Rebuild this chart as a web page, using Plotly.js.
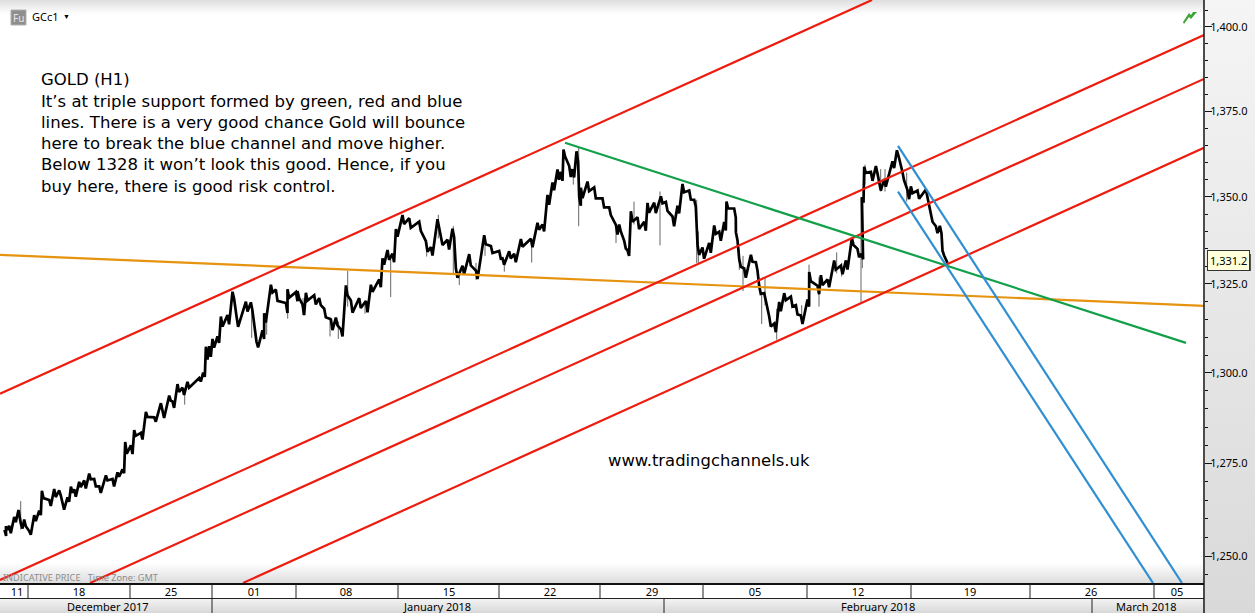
<!DOCTYPE html>
<html><head><meta charset="utf-8">
<script src="https://cdn.plot.ly/plotly-3.0.1.min.js"></script>
<style>
html,body{margin:0;padding:0;background:#fff;overflow:hidden}
#chart{width:1255px;height:613px;
background:
 linear-gradient(#f5f5f5,#d9d9d9) 1205px 0/50px 613px no-repeat,
 linear-gradient(#dedede,#ffffff) 0 0/1204px 14px no-repeat,
 linear-gradient(#ffffff,#dddddd) 0 563px/1204px 20px no-repeat,
 linear-gradient(#f3f3f3,#d8d8d8) 0 599px/1204px 14px no-repeat,
 #fff;}
</style></head><body><div id="chart"></div>
<script>
// price path: bar slot on the time axis, price level, and half the bar's high-low range
const barSlot=[5.3,6.7,10,15,19.3,21.7,25,30,35,40,42.7,50,55,60,63.3,68.3,71.7,75,80,85,90,95,100,106.7,113.3,118.3,123.3,126,131.7,135,141.7,146.7,155,161.7,163.3,170,173.3,178.3,183.3,188.3,200,204,206.7,210,213.3,218.3,221.7,228.3,233.3,237.3,246.7,251.7,257.3,263.3,265,271.7,276.7,286.7,288.3,296.7,298.3,303.3,306.7,315,320,325,331.7,336.7,341.7,346.7,351.7,360,366.7,371.7,380,383.3,388.3,393.3,396.7,403.3,410,420,426.7,431.7,438.3,441.7,448.3,453.3,456.7,463.3,470,476.7,485,491.7,500,503.3,510,515,521.7,531.7,538.3,543.3,548.3,553.3,558.3,561.7,564.3,570,573.3,577.3,580,581.7,588.3,595,603.3,610,616.7,620,625,628.3,631.7,638.3,645,648.3,655,661.7,666.7,673.3,678.3,683.3,690,695,698.3,703.3,710,715,720,725,727.3,735,736.7,740,745,751.7,756.7,760,765,770,775,780,785,791.7,796.7,801.7,808.3,810,818.3,821.7,828.3,835,841.7,846.7,852.7,858.3,862.3,862.7,865,871.7,876.7,880,885,893.3,897.7,903.3,908.3,911.7,918.3,926.7,931.7,936.7,940.7,943.3,946.7];
const barPrice=[1256.2,1257.5,1257.1,1259.8,1261.1,1258,1258.9,1256.2,1260.2,1261.6,1266.6,1264.3,1267,1267,1263.4,1265.2,1267.9,1267,1269.3,1269.3,1271.5,1269.8,1267.9,1271.1,1269.8,1272,1272.9,1279.3,1278.8,1283.4,1282.5,1288.5,1287.1,1290.3,1288.5,1293,1291.2,1295.8,1294.9,1296.7,1298.1,1299.5,1305.5,1306,1308.3,1309.3,1314.4,1314.9,1321.8,1314.4,1318.6,1318.6,1307.9,1310.7,1315.4,1323.7,1321.8,1318.2,1322.3,1321.4,1322,1317.7,1321.4,1320.5,1320,1316.8,1313.5,1314.4,1311.2,1323.2,1318.6,1319.6,1318.6,1323.8,1325.2,1331.4,1333.3,1332.4,1339.6,1343.4,1342.4,1341.5,1335.7,1334.3,1342.4,1337.6,1336.2,1339.6,1328.1,1329,1331.9,1327.6,1337.6,1334.8,1333.3,1331.4,1333.3,1332.4,1336.7,1336.7,1341.5,1341,1349.1,1353,1356.4,1355.9,1362.7,1357.3,1356.8,1361.7,1348.6,1351.1,1353,1351.1,1348.2,1345.8,1340.5,1341,1336.2,1333.8,1344.3,1342.4,1341.5,1346.8,1346.8,1349.1,1347.2,1342.9,1346.3,1352.5,1350.5,1348.1,1334.8,1333.8,1335.3,1340.5,1338.6,1341.5,1347.6,1345.3,1338.6,1331,1328.1,1332.3,1330,1323.3,1321.4,1314.4,1312.6,1318.6,1321.4,1320,1317.7,1314.9,1319.6,1327.1,1323.3,1326.1,1325.2,1330.4,1329,1330.4,1337.1,1333.8,1332.8,1349.1,1357.8,1355.9,1357.8,1353,1354,1359.3,1362.7,1355.9,1350.6,1352,1350.6,1351.1,1343.9,1340.5,1340.5,1333.8,1331.4];
const barRange=[0.8,0.5,1.0,0.7,1.3,0.6,0.9,0.5,0.8,0.6,
1.0,0.8,1.1,0.7,0.9,0.6,0.8,1.0,0.7,1.1,
0.8,1.0,0.9,0.7,1.0,0.6,0.5,1.6,1.2,0.8,
0.9,0.7,0.6,1.3,1.0,0.7,0.9,1.1,1.0,0.8,
0.5,0.6,1.8,1.5,1.2,0.9,1.4,1.3,1.0,1.5,
1.4,1.2,0.8,1.2,1.3,1.1,1.6,1.4,1.2,1.3,
1.0,1.5,1.1,1.3,1.0,1.2,1.5,1.1,1.0,1.4,
1.7,1.4,1.6,1.0,1.1,0.9,1.4,1.2,1.1,1.3,
1.4,1.3,1.5,1.2,1.1,1.5,1.4,1.2,1.3,1.2,
1.6,1.2,1.3,1.0,1.1,0.9,1.0,1.2,1.1,1.2,
1.0,1.0,1.4,1.1,1.5,1.3,1.0,1.6,1.2,1.5,
1.2,1.5,1.4,1.6,1.3,1.1,1.4,1.0,1.1,0.8,
1.5,1.7,1.3,1.4,1.5,1.0,1.3,1.4,1.1,1.2,
1.3,1.0,1.5,1.6,1.4,1.2,1.3,1.2,1.0,1.3,
1.2,1.1,1.3,1.0,1.2,1.1,1.0,1.4,1.2,1.3,
1.0,1.4,1.3,1.2,1.0,1.3,1.2,1.4,1.1,1.3,
1.2,1.3,1.0,1.2,0.8,0.8,0.9,1.3,1.1,1.2,
1.1,1.0,0.8,1.2,1.3,1.0,1.2,1.0,1.1,1.0,
1.1,0.7,0.4];
// long wicks
const wickSlot=[20.7,184.7,251.7,266.7,287.7,303,330,338.3,347.7,365,390.7,426.7,438.3,453.3,459.3,476,485,504.3,531.7,573.3,578.7,616,634,660,696.7,698.3,739.3,743,761.7,765,776.7,801.7,809,819,836.7,841.7,861,862.3,865,880.7,885,906.7];
const wickHigh=[1264.8,1295.8,1318.6,1315.4,1323.6,1321,1315.7,1314.4,1328.7,1319.6,1333.3,1336,1344.8,1341.5,1328.5,1331,1338.6,1332,1336.7,1358,1364.5,1341,1348.6,1351.5,1349.1,1340,1335,1333,1322,1327,1318,1319,1330.5,1327,1334,1331,1349.6,1333,1359.3,1358,1358,1357];
const wickLow=[1257.1,1291.2,1309.8,1310.7,1315.2,1316.3,1310.2,1309.5,1318.6,1316.6,1321.3,1332.8,1338,1328,1324.7,1326.2,1333,1328.5,1331.1,1353.5,1341.5,1336.7,1342,1336,1331,1331,1329,1323,1313.7,1319,1309.3,1313.7,1319.6,1318.6,1328,1327.1,1319.8,1329.5,1353.5,1351.5,1351.5,1348.6];
// drawn lines: [slot, slot], [price, price]
const redUpperX=[0,872], redUpperY=[1294.2,1408.1];
const redMid1X=[0,1204], redMid1Y=[1243.6,1397.6];
const redMid2X=[90,1204], redMid2Y=[1242.8,1384.5];
const redLowerX=[243,1204], redLowerY=[1242.8,1364.2];
const orangeX=[0,1204], orangeY=[1333.3,1318.8];
const greenX=[565,1186], greenY=[1365.7,1308.4];
const blueUpperX=[898,1182], blueUpperY=[1364.8,1242.8];
const blueLowerX=[898,1153], blueLowerY=[1351.5,1242.8];
// axes
const dayTickSlots=[17,79,171,254,346,449,550,652,755,858,970,1091,1177];
const dayTickText=['11','18','25','01','08','15','22','29','05','12','19','26','05'];
const daySeparators=[28,130,212,296,398,499,600,703,807,911,1030,1154];
const monthSeparators=[212,664,1092];
const monthLabels=['December 2017','January 2018','February 2018','March 2018'];
const monthLabelSlots=[109,438,879,1147];
const priceTicks=[1250,1275,1300,1325,1350,1375,1400];
const priceTickText=['1,250.0','1,275.0','1,300.0','1,325.0','1,350.0','1,375.0','1,400.0'];
const priceMinor=[1245,1255,1260,1265,1270,1280,1285,1290,1295,1305,1310,1315,1320,1330,1335,1340,1345,1355,1360,1365,1370,1380,1385,1390,1395,1405];
const lastPrice='1,331.2';
const commentLines=['GOLD (H1)','It’s at triple support formed by green, red and blue','lines. There is a very good chance Gold will bounce','here to break the blue channel and move higher.','Below 1328 it won’t look this good. Hence, if you','buy here, there is good risk control.'];
const commentRows=[79,101,122.5,144,165,186];

const W=1204,H=583,FONT='"Noto Sans",sans-serif',BODY='"DejaVu Sans",sans-serif';
const px=x=>x/W, py=y=>1-y/H;
const wx=[],wy=[];
wickSlot.forEach((s,i)=>{wx.push(s,s,null);wy.push(wickHigh[i],wickLow[i],null);});
const bx=[],by=[];
barSlot.forEach((s,i)=>{bx.push(s-0.8,s+0.8);by.push(barPrice[i]+barRange[i],barPrice[i]-barRange[i]);});
const ln=(x,y,c)=>({type:'scatter',mode:'lines',x,y,line:{color:c,width:2.2},hoverinfo:'skip',showlegend:false});
const traces=[
 {type:'scatter',mode:'lines',x:wx,y:wy,line:{color:'#666',width:1},hoverinfo:'skip',showlegend:false},
 {type:'scatter',mode:'lines',x:bx,y:by,line:{color:'#000',width:2.7},hoverinfo:'skip',showlegend:false},
 ln(orangeX,orangeY,'#e6930f'),
 ln(redUpperX,redUpperY,'#ee1c0e'),ln(redMid1X,redMid1Y,'#ee1c0e'),ln(redMid2X,redMid2Y,'#ee1c0e'),ln(redLowerX,redLowerY,'#ee1c0e'),
 ln(greenX,greenY,'#12a04a'),
 ln(blueUpperX,blueUpperY,'#2f8fd0'),ln(blueLowerX,blueLowerY,'#2f8fd0')
];
const ann=(text,x,y,size,color,extra)=>Object.assign({xref:'paper',yref:'paper',x:px(x),y:py(y),text,showarrow:false,xanchor:'left',yanchor:'middle',borderpad:0,font:{family:FONT,size,color}},extra||{});
const annotations=[];
commentLines.forEach((t,i)=>{const a=ann(t,40,commentRows[i],16.5,'#000');a.font.family=BODY;annotations.push(a);});
{const a=ann('www.tradingchannels.uk',607,460.5,16.4,'#000');a.font.family=BODY;annotations.push(a);}
annotations.push(ann('INDICATIVE PRICE &nbsp; Time Zone: GMT',2,577,9.2,'#8c8c8c'));
annotations.push(ann('GCc1',31,17,11,'#000'));
annotations.push(ann('Fu',18.5,17.5,10,'#e8e8e8',{xanchor:'center'}));
annotations.push(ann('▼',66,16,7,'#000',{xanchor:'center'}));
monthLabels.forEach((t,i)=>annotations.push({xref:'x',yref:'paper',x:monthLabelSlots[i]-1,y:py(606),text:t,showarrow:false,xanchor:'center',yanchor:'middle',font:{family:FONT,size:11,color:'#000'}}));
annotations.push(ann(lastPrice,1207,261,11,'#000',{bgcolor:'#ffffdc',bordercolor:'#333',borderwidth:1,borderpad:2}));
const vline=(x,y0,y1)=>({type:'line',xref:'x',yref:'paper',x0:x,x1:x,y0:py(y0),y1:py(y1),line:{color:'#222',width:1}});
const shapes=[];
daySeparators.forEach(s=>shapes.push(vline(s,584,598)));
monthSeparators.forEach(s=>shapes.push(vline(s,598,613)));
shapes.push({type:'line',xref:'paper',yref:'paper',x0:0,x1:1,y0:py(598.5),y1:py(598.5),line:{color:'#222',width:1}});
shapes.push({type:'line',xref:'paper',yref:'paper',x0:1,x1:1,y0:py(0),y1:py(613),line:{color:'#111',width:1.5}});
shapes.push({type:'rect',xref:'paper',yref:'paper',x0:px(11),x1:px(26),y0:py(25),y1:py(10),fillcolor:'#8e8e8e',line:{color:'#b0b0b0',width:1},layer:'below'});
shapes.push({type:'rect',xref:'paper',yref:'paper',x0:px(1208),x1:px(1251),y0:py(254),y1:py(271),fillcolor:'#555',line:{width:0},layer:'below'});
const arrow=[[1184,24],[1189,17],[1191,19],[1197,12],[1193,12],[1191,15],[1189,13],[1183,22]];
shapes.push({type:'path',xref:'paper',yref:'paper',path:arrow.map((p,i)=>(i?'L':'M')+px(p[0]).toFixed(5)+' '+py(p[1]).toFixed(5)).join(' ')+' Z',fillcolor:'#3fa535',line:{width:0}});
const layout={
 width:1255,height:613,margin:{l:0,r:51,t:0,b:30,pad:0},
 paper_bgcolor:'rgba(0,0,0,0)',plot_bgcolor:'rgba(0,0,0,0)',showlegend:false,hovermode:false,
 xaxis:{type:'linear',range:[0,W],showgrid:false,zeroline:false,showline:true,linecolor:'#111',linewidth:1.5,ticks:'',tickmode:'array',tickvals:dayTickSlots,ticktext:dayTickText,tickangle:0,ticklabelstandoff:-2,tickfont:{family:FONT,size:11,color:'#000'}},
 yaxis:{type:'log',side:'right',range:[Math.log10(1242.8),Math.log10(1408.1)],showgrid:false,zeroline:false,showline:false,tickmode:'array',tickvals:priceTicks,ticktext:priceTickText,ticks:'outside',ticklen:7,tickwidth:1,tickcolor:'#111',ticklabelstandoff:-4,tickfont:{family:FONT,size:11,color:'#000'},
  minor:{tickmode:'array',tickvals:priceMinor,ticks:'outside',ticklen:3,tickwidth:1,tickcolor:'#111',showgrid:false}},
 annotations,shapes
};
Plotly.newPlot('chart',traces,layout,{displayModeBar:false,staticPlot:true});
</script></body></html>
